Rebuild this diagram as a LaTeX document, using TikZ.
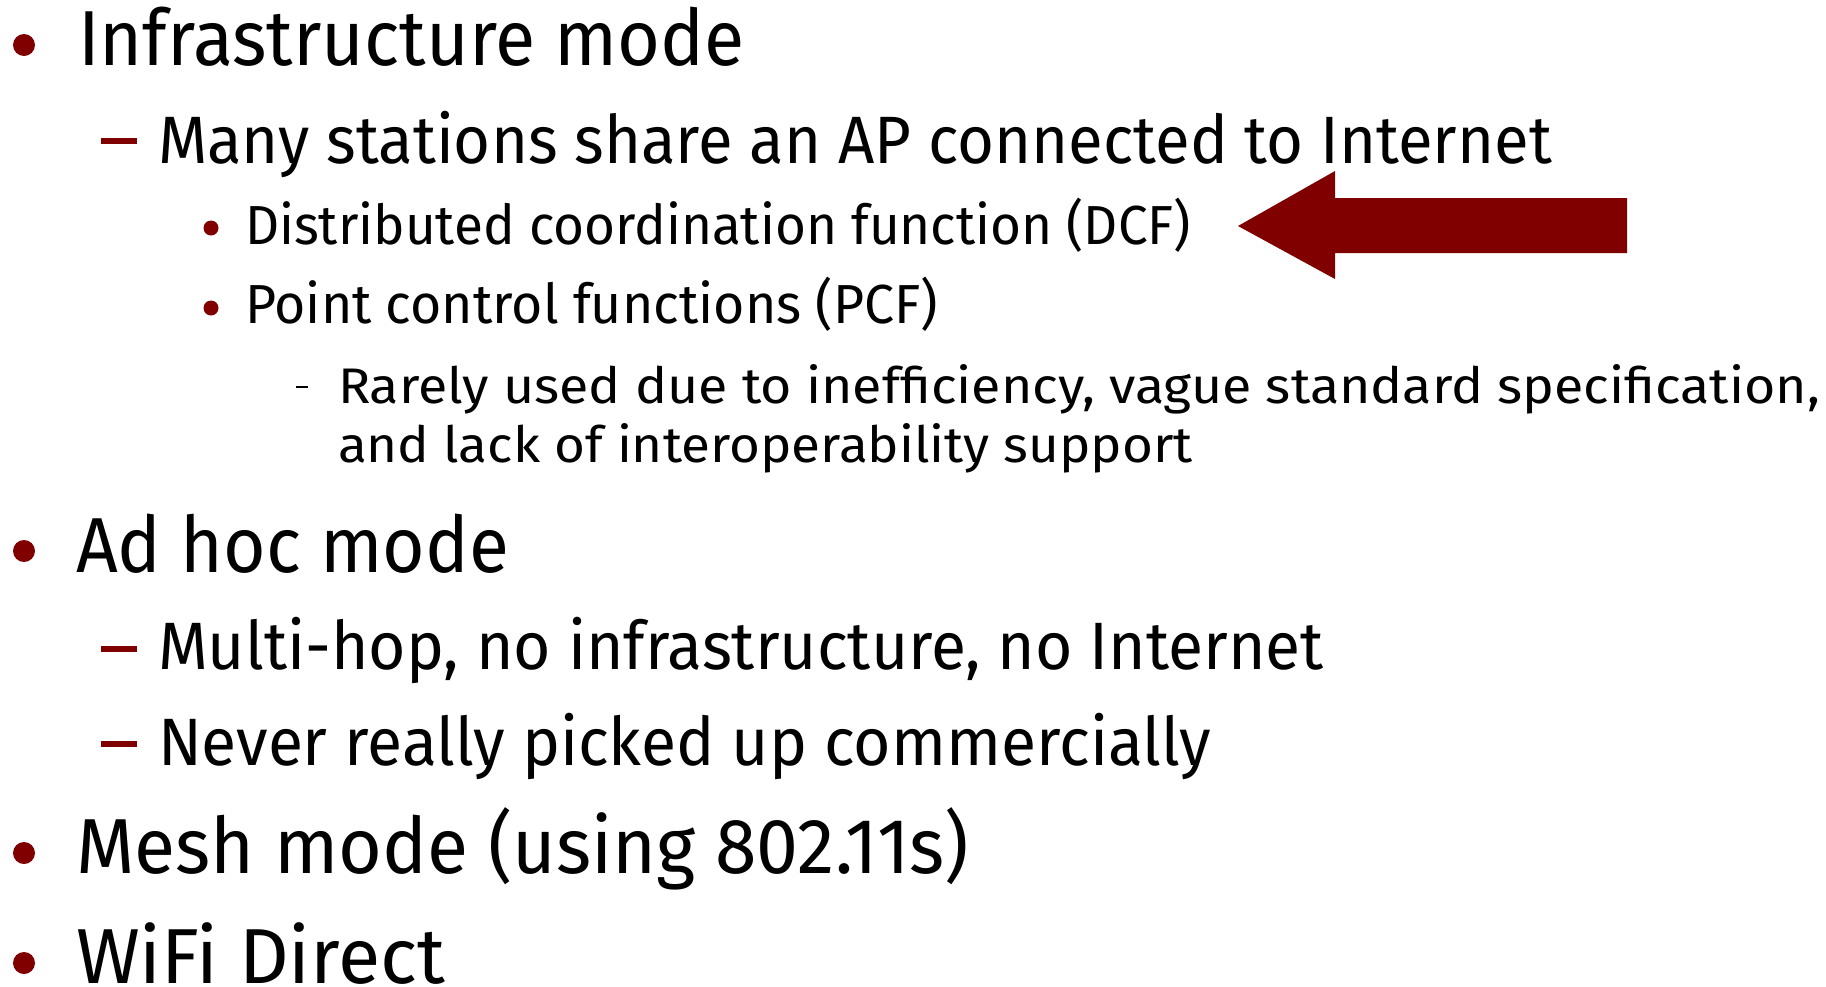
\documentclass[tikz,border=0pt]{standalone}
\usepackage{fontspec}
\setmainfont{Fira Sans}
\usepackage{graphicx}
\definecolor{darkred}{RGB}{128,0,0}
\newsavebox\tbox
\newcommand\fitline[2]{\sbox\tbox{#2}\pgfmathsetmacro\sx{#1/(\wd\tbox)}\scalebox{\sx}[1]{\usebox\tbox}}
\tikzset{
  txt/.style={anchor=base west, inner sep=0pt, outer sep=0pt},
  lvlone/.style={txt, font=\fontsize{78}{90}\selectfont},
  lvltwo/.style={txt, font=\fontsize{67}{80}\selectfont},
  lvlthree/.style={txt, font=\fontsize{55}{66}\selectfont},
  lvlfour/.style={txt, font=\fontsize{50}{60}\selectfont},
  bigdot/.style={fill=darkred, draw=none},
  reddash/.style={draw=darkred, line width=6pt},
  blackdash/.style={draw=black, line width=2.5pt},
  bigarrow/.style={fill=darkred, draw=none}
}
\begin{document}
\begin{tikzpicture}[x=1pt,y=-1pt]
\useasboundingbox (0,0) rectangle (1826,986);
% level 1
\fill[bigdot] (24,45) circle (11);
\node[lvlone] (t1) at (78,65) {\fitline{667}{Infrastructure mode}};
% level 2
\draw[reddash] (101,141) -- (137,141);
\node[lvltwo] (t2) at (158,163) {\fitline{1394}{Many stations share an AP connected to Internet}};
% level 3
\fill[bigdot] (211,228) circle (7.5);
\node[lvlthree] (t3) at (245,244) {\fitline{946}{Distributed coordination function (DCF)}};
\fill[bigdot] (211,308) circle (7.5);
\node[lvlthree] (t4) at (245,323) {\fitline{693}{Point control functions (PCF)}};
% level 4
\draw[blackdash] (296,387) -- (308,387);
\node[lvlfour] (t5) at (338,403) {\fitline{1482}{Rarely used due to inefficiency, vague standard specification,}};
\node[lvlfour] (t6) at (338,462) {\fitline{855}{and lack of interoperability support}};
% level 1
\fill[bigdot] (24,551) circle (11);
\node[lvlone] (t7) at (76,572) {\fitline{433}{Ad hoc mode}};
\draw[reddash] (101,649) -- (137,649);
\node[lvltwo] (t8) at (158,669) {\fitline{1166}{Multi-hop, no infrastructure, no Internet}};
\draw[reddash] (101,744) -- (137,744);
\node[lvltwo] (t9) at (158,765) {\fitline{1053}{Never really picked up commercially}};
\fill[bigdot] (24,853) circle (11);
\node[lvlone] (t10) at (76,873) {\fitline{893}{Mesh mode (using 802.11s)}};
\fill[bigdot] (24,963) circle (11);
\node[lvlone] (t11) at (76,983) {\fitline{369}{WiFi Direct}};
% arrow
\fill[bigarrow] (1238,226) -- (1335,171) -- (1335,198) -- (1627,198) -- (1627,253) -- (1335,253) -- (1335,279) -- cycle;
\end{tikzpicture}
\end{document}
